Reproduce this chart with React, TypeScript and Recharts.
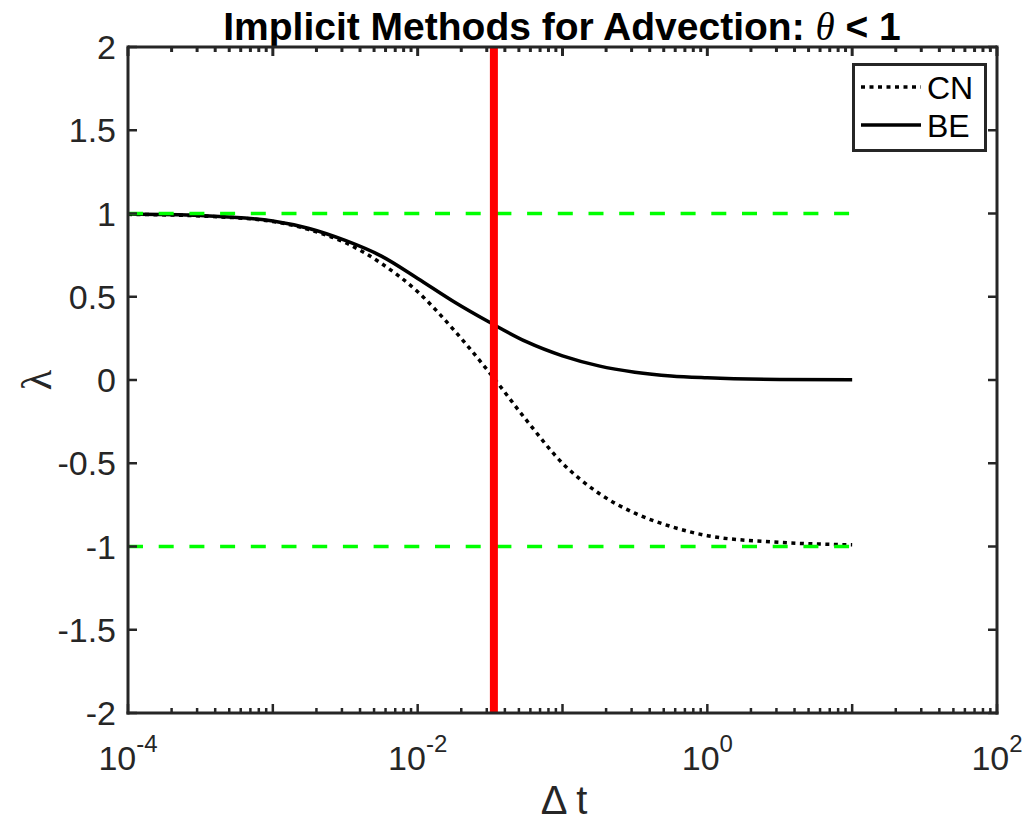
import React from 'react'
import {
  ComposedChart,
  Line,
  XAxis,
  YAxis,
  ReferenceLine,
  Legend,
} from 'recharts'

// Δt samples (log-spaced)
const DT = [
  1e-4, 3.16e-4, 1e-3, 1.78e-3, 3.16e-3, 5.62e-3, 1e-2, 1.78e-2, 3.16e-2,
  5.62e-2, 1e-1, 1.78e-1, 3.16e-1, 5.62e-1, 1, 3.16, 10,
]
const CN = [
  0.995, 0.985, 0.952, 0.903, 0.825, 0.7, 0.53, 0.3, 0.04,
  -0.24, -0.5, -0.68, -0.8, -0.88, -0.935, -0.975, -0.99,
]
const BE = [
  0.997, 0.988, 0.955, 0.91, 0.838, 0.744, 0.61, 0.47, 0.345,
  0.23, 0.145, 0.085, 0.047, 0.024, 0.013, 0.003, 0.001,
]

const STABILITY_BOUNDS = [1, -1]
const BOUND_RANGE = [1e-4, 10]
const CRITICAL_DT = 0.0336

const X_DOMAIN = [1e-4, 100]
const Y_DOMAIN = [-2, 2]
const X_MAJOR = [1e-4, 1e-3, 1e-2, 1e-1, 1, 10, 100]
const X_LABELS = [1e-4, 1e-2, 1, 100]
const X_LABEL_EXP: Record<string, string> = { '0.0001': '-4', '0.01': '-2', '1': '0', '100': '2' }
const X_MINOR = X_MAJOR.slice(0, -1).flatMap((d) =>
  [2, 3, 4, 5, 6, 7, 8, 9].map((m) => m * d)
)
const X_TICKS = [...X_MAJOR, ...X_MINOR]
const Y_TICKS = [-2, -1.5, -1, -0.5, 0, 0.5, 1, 1.5, 2]

const data = DT.map((dt, i) => ({ dt, cn: CN[i], be: BE[i] }))

const AXIS = '#262626'
const FONT = '"Liberation Sans", Arial, Helvetica, sans-serif'
const SERIF = '"Liberation Serif", "DejaVu Serif", serif'
const W = 1028
const H = 821
// left/right/bottom axes take 1px each, so the plot area is 128..997 x 47..713
const MARGIN = { top: 47, right: 30, bottom: 107, left: 127 }
const PX_PER_UNIT = 666 / 4

const isMajor = (v: number) => X_MAJOR.includes(v)
const tickLen = (v: number) => (isMajor(v) ? 9 : 5)

const BottomTick = (props: any) => {
  const { x, y, payload } = props
  const v = payload.value
  const showLabel = X_LABELS.includes(v)
  return (
    <g>
      <line x1={x} x2={x} y1={y} y2={y - tickLen(v)} stroke={AXIS} strokeWidth={2.5} />
      {showLabel && (
        <text x={x} y={y + 57} textAnchor="middle" fill={AXIS} fontFamily={FONT} fontSize={34}>
          10
          <tspan dy={-18} fontSize={24}>{X_LABEL_EXP[String(v)]}</tspan>
        </text>
      )}
    </g>
  )
}

const LeftTick = (props: any) => {
  const { x, y, payload } = props
  return (
    <g>
      <line x1={x} x2={x + 9} y1={y} y2={y} stroke={AXIS} strokeWidth={2.5} />
      <text x={x - 12} y={y} dy="0.36em" textAnchor="end" fill={AXIS} fontFamily={FONT} fontSize={34}>
        {payload.value}
      </text>
    </g>
  )
}

const RightTick = (props: any) => {
  const { x, y } = props
  return (
    <g>
      <line x1={x} x2={x - 9} y1={y} y2={y} stroke={AXIS} strokeWidth={2.5} />
    </g>
  )
}

const LegendBox = () => (
  <div
    style={{
      width: 135,
      height: 89,
      boxSizing: 'border-box',
      border: `3px solid ${AXIS}`,
      background: '#fff',
    }}
  >
    <svg width={129} height={83} style={{ display: 'block' }}>
      <line x1={6} x2={66} y1={21} y2={21} stroke="#000" strokeWidth={3.5} strokeDasharray="4 4.5" />
      <text x={72} y={21} dy="0.36em" fill="#000" fontFamily={FONT} fontSize={32}>CN</text>
      <line x1={6} x2={66} y1={59} y2={59} stroke="#000" strokeWidth={3.5} />
      <text x={72} y={59} dy="0.36em" fill="#000" fontFamily={FONT} fontSize={32}>BE</text>
    </svg>
  </div>
)

const axisLine = { stroke: AXIS, strokeWidth: 3, strokeLinecap: 'square' as const }

export default function App() {
  const yTop = Y_DOMAIN[1]
  return (
    <div style={{ position: 'absolute', left: 0, top: 0, width: W, height: H, background: '#fff' }}>
      {/* title and axis titles sit underneath the chart so they cannot cover it */}
      <svg
        width={W}
        height={H}
        style={{ position: 'absolute', left: 0, top: 0, pointerEvents: 'none' }}
      >
        <text x={562} y={40} textAnchor="middle" fill="#000" fontFamily={FONT} fontSize={39} fontWeight="bold">
          Implicit Methods for Advection:{' '}
          <tspan fontFamily={SERIF} fontStyle="italic" fontWeight="normal">θ</tspan>
          {' < 1'}
        </text>
        <text x={564} y={814} textAnchor="middle" fill={AXIS} fontFamily={FONT} fontSize={40}>
          Δ t
        </text>
        <text
          x={36}
          y={380}
          textAnchor="middle"
          transform="rotate(-90 36 380)"
          dy="0.36em"
          fill={AXIS}
          fontFamily={SERIF}
          fontSize={42}
        >
          λ
        </text>
      </svg>
      <div style={{ position: 'absolute', left: 0, top: 0 }}>
        <ComposedChart width={W} height={H} data={data} margin={MARGIN}>
          <XAxis
            xAxisId="x"
            dataKey="dt"
            type="number"
            scale="log"
            domain={X_DOMAIN}
            allowDataOverflow
            ticks={X_TICKS}
            interval={0}
            height={1}
            tickSize={0}
            tickMargin={0}
            tickLine={false}
            tick={<BottomTick />}
            axisLine={axisLine}
          />
          <YAxis
            yAxisId="y"
            type="number"
            domain={Y_DOMAIN}
            allowDataOverflow
            ticks={Y_TICKS}
            interval={0}
            width={1}
            tickSize={0}
            tickMargin={0}
            tickLine={false}
            tick={<LeftTick />}
            axisLine={axisLine}
          />
          <YAxis
            yAxisId="yRight"
            orientation="right"
            type="number"
            domain={Y_DOMAIN}
            allowDataOverflow
            ticks={Y_TICKS}
            interval={0}
            width={1}
            tickSize={0}
            tickMargin={0}
            tickLine={false}
            tick={<RightTick />}
            axisLine={axisLine}
          />
          {/* CN is bound to the right axis (same domain) so that axis gets its ticks */}
          <Line
            xAxisId="x"
            yAxisId="yRight"
            type="monotone"
            dataKey="cn"
            name="CN"
            stroke="#000"
            strokeWidth={3.5}
            strokeDasharray="4 4.5"
            dot={false}
            isAnimationActive={false}
          />
          <Line
            xAxisId="x"
            yAxisId="y"
            type="monotone"
            dataKey="be"
            name="BE"
            stroke="#000"
            strokeWidth={3.5}
            dot={false}
            isAnimationActive={false}
          />
          {STABILITY_BOUNDS.map((b) => (
            <ReferenceLine
              key={b}
              xAxisId="x"
              yAxisId="y"
              segment={[{ x: BOUND_RANGE[0], y: b }, { x: BOUND_RANGE[1], y: b }]}
              stroke="#00ff00"
              strokeWidth={3.5}
              strokeDasharray="15 15.7"
            />
          ))}
          <ReferenceLine xAxisId="x" yAxisId="y" x={CRITICAL_DT} stroke="#ff0000" strokeWidth={8} />
          {/* top edge of the box and its inward ticks */}
          <ReferenceLine
            xAxisId="x"
            yAxisId="y"
            y={yTop}
            stroke={AXIS}
            strokeWidth={3}
            ifOverflow="visible"
          />
          {X_TICKS.map((v) => (
            <ReferenceLine
              key={`top-${v}`}
              xAxisId="x"
              yAxisId="y"
              segment={[{ x: v, y: yTop }, { x: v, y: yTop - tickLen(v) / PX_PER_UNIT }]}
              stroke={AXIS}
              strokeWidth={3}
              ifOverflow="visible"
            />
          ))}
          <Legend
            layout="vertical"
            align="center"
            verticalAlign="middle"
            content={<LegendBox />}
            wrapperStyle={{ left: 852, top: 63, width: 135, height: 89 }}
          />
        </ComposedChart>
      </div>
    </div>
  )
}
